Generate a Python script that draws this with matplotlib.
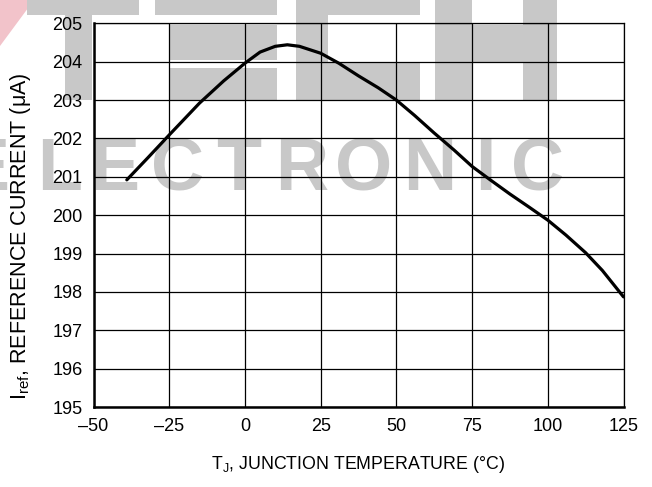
import matplotlib
matplotlib.use("Agg")
import matplotlib.pyplot as plt
from matplotlib.patches import Rectangle, Polygon

plt.rcParams['font.family'] = ['Liberation Sans', 'DejaVu Sans']
plt.rcParams['mathtext.fontset'] = 'custom'
plt.rcParams['mathtext.rm'] = 'Liberation Sans'
plt.rcParams['mathtext.it'] = 'Liberation Sans'

# ---- data ----
temperature = [-39, -32, -25, -15, -7, 0, 5, 10, 14, 18, 25, 31, 37.5, 44,
               50, 56, 62.5, 69, 75, 81, 87.5, 94, 100, 106, 112.5, 118, 125]
current = [200.92, 201.5, 202.09, 202.92, 203.5, 203.96, 204.25, 204.4,
           204.44, 204.4, 204.22, 203.96, 203.63, 203.32, 203.0, 202.6,
           202.14, 201.7, 201.27, 200.92, 200.55, 200.2, 199.87, 199.48,
           199.02, 198.56, 197.87]
x_ticks = [-50, -25, 0, 25, 50, 75, 100, 125]
y_ticks = [195, 196, 197, 198, 199, 200, 201, 202, 203, 204, 205]
watermark_word = list("ELECTRONIC")

W, H = 652, 487
fig = plt.figure(figsize=(W / 100, H / 100), dpi=100, facecolor='white')

# ---- background watermark (decoration) ----
gray = '#c8c8c8'


def px_rect(x0, y0, x1, y1, color=gray):
    r = Rectangle((x0 / W, 1 - y1 / H), (x1 - x0) / W, (y1 - y0) / H,
                  transform=fig.transFigure, facecolor=color,
                  edgecolor='none', zorder=-2)
    fig.add_artist(r)


fig.add_artist(Polygon([(0, 1), (34 / W, 1), (0, 1 - 46 / H)], closed=True,
                       transform=fig.transFigure, facecolor='#f2c3ca',
                       edgecolor='none', zorder=-2))
# T
px_rect(27, 0, 139, 15)
px_rect(65, 15, 92, 100)
# E
px_rect(155, 0, 277, 15)
px_rect(170, 25, 277, 60)
px_rect(170, 68, 277, 100)
# C
px_rect(296, 0, 420, 15)
px_rect(296, 15, 328, 100)
px_rect(328, 62, 420, 100)
# H
px_rect(435, 0, 472, 100)
px_rect(472, 25, 523, 62)
px_rect(523, 0, 557, 100)

letter_x = [-15, 60, 115, 178, 239, 302, 364, 430, 485, 538]
for ch, lx in zip(watermark_word, letter_x):
    fig.text(lx / W, 1 - 190 / H, ch, ha='center', va='baseline',
             fontsize=53, fontweight='bold', color=gray,
             family='Liberation Sans', zorder=-1)

# ---- axes ----
ax = fig.add_axes([93.5 / W, 1 - 407 / H, 530 / W, 383.7 / H])
ax.set_facecolor('none')
ax.plot(temperature, current, color='black', lw=2.3, solid_capstyle='round',
        solid_joinstyle='round', zorder=3)

ax.set_xlim(-50, 125)
ax.set_ylim(195, 205)
ax.set_xticks(x_ticks)
ax.set_yticks(y_ticks)
ax.set_xticklabels([f"{t}".replace('-', '\u2013') for t in x_ticks])
ax.set_yticklabels([str(v) for v in y_ticks])
ax.grid(True, color='black', lw=0.9)
ax.tick_params(length=0, labelsize=13, pad=8, colors='black')

for side in ['top', 'right']:
    ax.spines[side].set_linewidth(0.9)
for side in ['left', 'bottom']:
    ax.spines[side].set_linewidth(1.8)

ax.set_xlabel(r'T$_\mathrm{J}$, JUNCTION TEMPERATURE ($\degree$C)',
              fontsize=12.8)
ax.set_ylabel(r'I$_\mathrm{ref}$, REFERENCE CURRENT ($\mu$A)', fontsize=15.5)
ax.xaxis.set_label_coords(0.5, -0.122)
ax.yaxis.set_label_coords(-0.115, 0.444)

fig.savefig('out.png', dpi=100, facecolor='white')
